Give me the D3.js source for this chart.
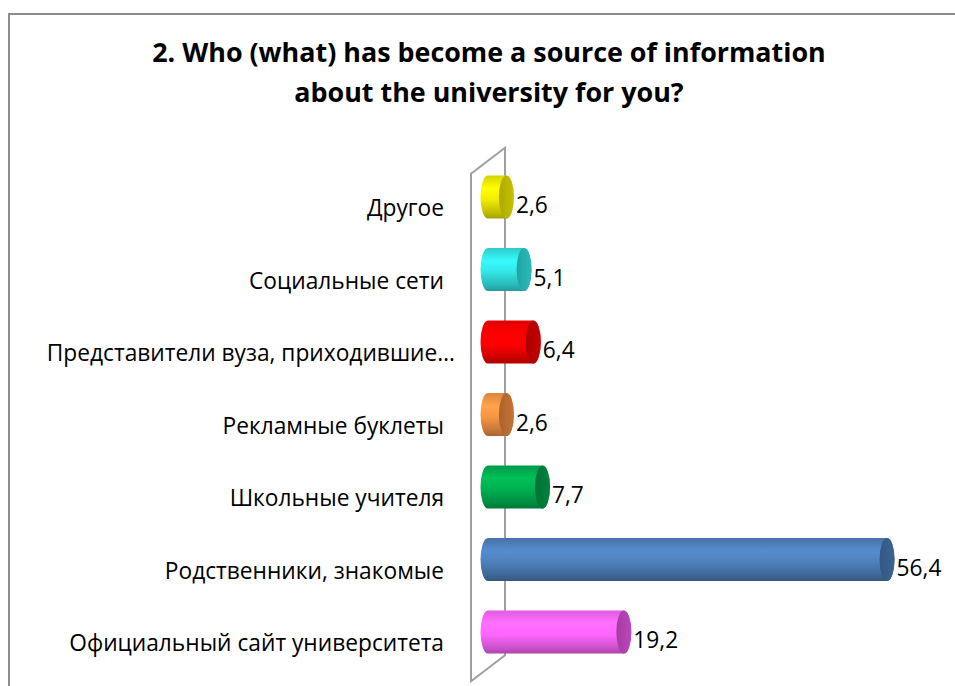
<!DOCTYPE html>
<html><head><meta charset="utf-8">
<script src="https://cdn.jsdelivr.net/npm/d3@7"></script>
<style>body{margin:0;background:#fff;} svg{display:block;}</style>
</head><body>
<svg id="c" width="955" height="686"></svg>
<script>
const titleLines = ["2. Who (what) has become a source of information", "about the university for you?"];
const categories = ["Другое", "Социальные сети", "Представители вуза, приходившие…", "Рекламные буклеты", "Школьные учителя", "Родственники, знакомые", "Официальный сайт университета"];
const values = [2.6, 5.1, 6.4, 2.6, 7.7, 56.4, 19.2];
const valueLabels = ["2,6", "5,1", "6,4", "2,6", "7,7", "56,4", "19,2"];
const bodyColors = ["#F2EE00", "#33E6E6", "#FF0000", "#F79646", "#00B050", "#4F81BD", "#FF66FF"];
const capColors = ["#B8B400", "#25AEAE", "#B80000", "#B86A30", "#007A38", "#385D8A", "#B040B0"];

const svg = d3.select("#c");
const font = "'Open Sans', 'Noto Sans', sans-serif";

// border
svg.append("rect").attr("x", 9).attr("y", 14).attr("width", 980).attr("height", 720)
  .attr("fill", "none").attr("stroke", "#8c8c8c").attr("stroke-width", 2);

const x = d3.scaleLinear().domain([0, 60]).range([488, 912.5]);
const y = d3.scaleBand().domain(categories).range([160.75, 668.25]).padding(0);
const dx = 17, dy = 13;
const barH = 43, rx = 7.5;

// back wall
const x0 = x(0), yt = y.range()[0], yb = y.range()[1];
svg.append("path")
  .attr("d", `M${x0-dx},${yb+dy} L${x0-dx},${yt+dy} L${x0+dx},${yt-dy} L${x0+dx},${yb-dy} Z`)
  .attr("fill", "none").attr("stroke", "#a0a0a0").attr("stroke-width", 2);

const defs = svg.append("defs");
categories.forEach((c, i) => {
  const g = defs.append("linearGradient").attr("id", "g" + i).attr("x1", 0).attr("y1", 0).attr("x2", 0).attr("y2", 1);
  const base = d3.color(bodyColors[i]);
  g.append("stop").attr("offset", "0%").attr("stop-color", base.darker(0.35));
  g.append("stop").attr("offset", "30%").attr("stop-color", base.brighter(0.25));
  g.append("stop").attr("offset", "55%").attr("stop-color", base);
  g.append("stop").attr("offset", "85%").attr("stop-color", base.darker(0.6));
  g.append("stop").attr("offset", "100%").attr("stop-color", base.darker(1.1));
  const g2 = defs.append("linearGradient").attr("id", "c" + i).attr("x1", 0).attr("y1", 0).attr("x2", 1).attr("y2", 0);
  const cap = d3.color(capColors[i]);
  g2.append("stop").attr("offset", "0%").attr("stop-color", cap.darker(0.2));
  g2.append("stop").attr("offset", "100%").attr("stop-color", cap.brighter(0.2));
});

const bars = svg.append("g");
categories.forEach((c, i) => {
  const cy = y(c) + y.bandwidth() / 2;
  const top = cy - barH / 2, bot = cy + barH / 2, ry = barH / 2;
  const xs = x(0), xe = x(values[i]);
  bars.append("path")
    .attr("d", `M${xs},${top} L${xe},${top} A${rx},${ry} 0 0 1 ${xe},${bot} L${xs},${bot} A${rx},${ry} 0 0 1 ${xs},${top} Z`)
    .attr("fill", `url(#g${i})`);
  bars.append("ellipse").attr("cx", xe).attr("cy", cy).attr("rx", rx).attr("ry", ry)
    .attr("fill", `url(#c${i})`);
  // value label
  svg.append("text").attr("x", xe + rx + 2).attr("y", cy + 10)
    .attr("dominant-baseline", "middle")
    .attr("font-family", font).attr("font-size", 20).attr("fill", "#000")
    .attr("class", "val").text(valueLabels[i]);
  // category label
  svg.append("text").attr("x", i === 2 ? 455 : 444).attr("y", cy + 13)
    .attr("text-anchor", "end").attr("dominant-baseline", "middle")
    .attr("font-family", font).attr("font-size", 20).attr("fill", "#000")
    .attr("class", "cat").text(c);
});

// fit category label font to reference width
const ref = svg.selectAll("text.cat").filter((d, i, n) => n[i].textContent === categories[6]).node();
const k = 375 / ref.getComputedTextLength();
svg.selectAll("text.cat").attr("font-size", 20 * k);
svg.selectAll("text.val").attr("font-size", 20 * k);

// title
const t = svg.append("g");
const tl = titleLines.map((s, i) => t.append("text").attr("x", 489).attr("y", 55 + i * 40)
  .attr("text-anchor", "middle").attr("dominant-baseline", "middle")
  .attr("font-family", font).attr("font-weight", "bold").attr("font-size", 26).attr("fill", "#000").text(s));
const kt = 674 / tl[0].node().getComputedTextLength();
tl.forEach(n => n.attr("font-size", 26 * kt));
</script>
</body></html>
